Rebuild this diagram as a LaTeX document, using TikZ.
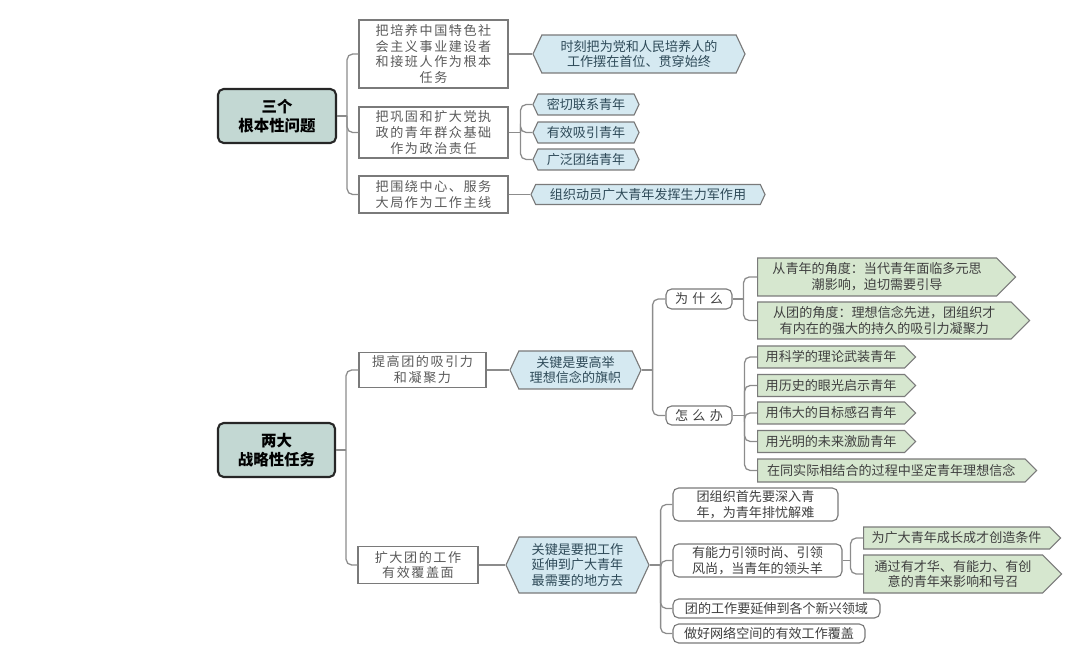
\documentclass[tikz,border=0pt]{standalone}
\usepackage{fontspec}
\setmainfont{Noto Sans CJK SC}
\newfontfamily\widecjk{Noto Sans CJK SC}[LetterSpace=12]
\usetikzlibrary{shapes.symbols}

\newlength\pxlen
\setlength\pxlen{0.025cm}

\definecolor{rootfill}{HTML}{C3D8D3}
\definecolor{bluefill}{HTML}{D5E9F1}
\definecolor{greenfill}{HTML}{D6E7CF}
\definecolor{edgegrey}{HTML}{7A7A7A}
\definecolor{linkgrey}{HTML}{8C8C8C}
\definecolor{textgrey}{HTML}{5A5A5A}
\definecolor{bluetext}{HTML}{2E4A58}

\tikzset{
  wh/.style 2 args={minimum width=#1\pxlen, minimum height=#2\pxlen},
  base/.style={inner sep=0pt, align=center, font=\fontsize{9.3}{11.3}\selectfont},
  rootbox/.style={base, draw=black!85, line width=1.5pt, rounded corners=4pt,
    fill=rootfill, font=\fontsize{11}{14}\selectfont\bfseries},
  taskbox/.style={base, draw=edgegrey, line width=0.8pt, fill=white, text=textgrey,
    font=\widecjk\fontsize{9.3}{11.3}\selectfont},
  keybox/.style={base, signal, signal to=west and east, signal pointer angle=130,
    draw=edgegrey, line width=0.8pt, fill=bluefill, text=bluetext},
  leafbox/.style={base, signal, signal to=east, signal pointer angle=90, anchor=west,
    draw=edgegrey, line width=0.8pt, fill=greenfill, text=black!75},
  askbox/.style={base, rectangle, rounded corners=4pt, draw=edgegrey,
    line width=0.8pt, fill=white, text=black!75},
  link/.style={draw=linkgrey, line width=0.9pt, rounded corners=4pt},
}

\begin{document}
\begin{tikzpicture}[x=1\pxlen, y=-1\pxlen]
  \useasboundingbox (0,0) rectangle (1080,662);

  \node[rootbox, wh={118}{54}] (r1) at (277,116) {三个\\根本性问题};

  \node[taskbox, wh={149}{68}] (a1) at (433.5,54) {把培养中国特色社\\会主义事业建设者\\和接班人作为根本\\任务};
  \node[taskbox, wh={149}{51}] (a2) at (433.5,132.5) {把巩固和扩大党执\\政的青年群众基础\\作为政治责任};
  \node[taskbox, wh={149}{37}] (a3) at (433.5,194.5) {把围绕中心、服务\\大局作为工作主线};

  \node[keybox, wh={212}{38}] (b1) at (639,54) {时刻把为党和人民培养人的\\工作摆在首位、贯穿始终};
  \node[keybox, wh={106}{21}] (b2) at (586,104.5) {密切联系青年};
  \node[keybox, wh={106}{21}] (b3) at (586,132.5) {有效吸引青年};
  \node[keybox, wh={106}{21}] (b4) at (586,159.5) {广泛团结青年};
  \node[keybox, wh={234}{20}] (b5) at (648,194.5) {组织动员广大青年发挥生力军作用};

  \path (r1.east) ++(10,0) coordinate (j1);
  \path (a2.east) ++(12,0) coordinate (j2);
  \draw[link] (r1.east) -- (j1);
  \foreach \n in {a1,a2,a3}
    \draw[link] (j1) |- (\n.west);
  \draw[link] (a1.east) -- (b1.west);
  \draw[link] (a2.east) -- (j2);
  \foreach \n in {b2,b3,b4}
    \draw[link] (j2) |- (\n.west);
  \draw[link] (a3.east) -- (b5.west);


  \node[rootbox, wh={117}{54}] (r2) at (276.5,450) {两大\\战略性任务};

  \node[taskbox, wh={127}{35}] (c1) at (422.5,370) {提高团的吸引力\\和凝聚力};
  \node[taskbox, wh={120}{37}] (c2) at (418,565) {扩大团的工作\\有效覆盖面};

  \node[keybox, wh={131}{38}] (d1) at (575.5,370) {关键是要高举\\理想信念的旗帜};
  \node[keybox, wh={143}{56}] (d2) at (577.5,565) {关键是要把工作\\延伸到广大青年\\最需要的地方去};

  \node[askbox, wh={66}{20}] (e1) at (699,299) {为\hspace{3pt}什\hspace{3pt}么};
  \node[askbox, wh={66}{19}] (e2) at (699,415.5) {怎\hspace{3pt}么\hspace{3pt}办};

  \node[leafbox, wh={258}{38}] (f1) at (757,277) {从青年的角度：当代青年面临多元思\\潮影响，迫切需要引导};
  \node[leafbox, wh={272}{37}] (f2) at (757,320.5) {从团的角度：理想信念先进，团组织才\\有内在的强大的持久的吸引力凝聚力};

  \node[leafbox, wh={158}{22}] (g1) at (757,357) {用科学的理论武装青年};
  \node[leafbox, wh={158}{22}] (g2) at (757,385.5) {用历史的眼光启示青年};
  \node[leafbox, wh={158}{22}] (g3) at (757,413) {用伟大的目标感召青年};
  \node[leafbox, wh={158}{22}] (g4) at (757,441.5) {用光明的未来激励青年};
  \node[leafbox, wh={279}{23}] (g5) at (757,470.5) {在同实际相结合的过程中坚定青年理想信念};

  \node[askbox, wh={165}{33}] (h1) at (755.5,504.5) {团组织首先要深入青\\年，为青年排忧解难};
  \node[askbox, wh={169}{33}] (h2) at (757.5,560.5) {有能力引领时尚、引领\\风尚，当青年的领头羊};
  \node[askbox, wh={207}{19}] (h3) at (776.5,608.5) {团的工作要延伸到各个新兴领域};
  \node[askbox, wh={192}{19}] (h4) at (769,633.5) {做好网络空间的有效工作覆盖};

  \node[leafbox, wh={197}{22}] (i1) at (863,538) {为广大青年成长成才创造条件};
  \node[leafbox, wh={198}{38}] (i2) at (863,574) {通过有才华、有能力、有创\\意的青年来影响和号召};

  \path (r2.east) ++(10,0) coordinate (j3);
  \path (d1.east) ++(11,0) coordinate (j4);
  \path (e1.east) ++(11,0) coordinate (j5);
  \path (e2.east) ++(12,0) coordinate (j6);
  \path (d2.east) ++(11,0) coordinate (j7);
  \path (h2.east) ++(8,0) coordinate (j8);

  \draw[link] (r2.east) -- (j3);
  \foreach \n in {c1,c2}
    \draw[link] (j3) |- (\n.west);
  \draw[link] (c1.east) -- (d1.west);
  \draw[link] (c2.east) -- (d2.west);
  \draw[link] (d1.east) -- (j4);
  \foreach \n in {e1,e2}
    \draw[link] (j4) |- (\n.west);
  \draw[link] (e1.east) -- (j5);
  \foreach \n in {f1,f2}
    \draw[link] (j5) |- (\n.west);
  \draw[link] (e2.east) -- (j6);
  \foreach \n in {g1,g2,g3,g4,g5}
    \draw[link] (j6) |- (\n.west);
  \draw[link] (d2.east) -- (j7);
  \foreach \n in {h1,h2,h3,h4}
    \draw[link] (j7) |- (\n.west);
  \draw[link] (h2.east) -- (j8);
  \foreach \n in {i1,i2}
    \draw[link] (j8) |- (\n.west);
\end{tikzpicture}
\end{document}
